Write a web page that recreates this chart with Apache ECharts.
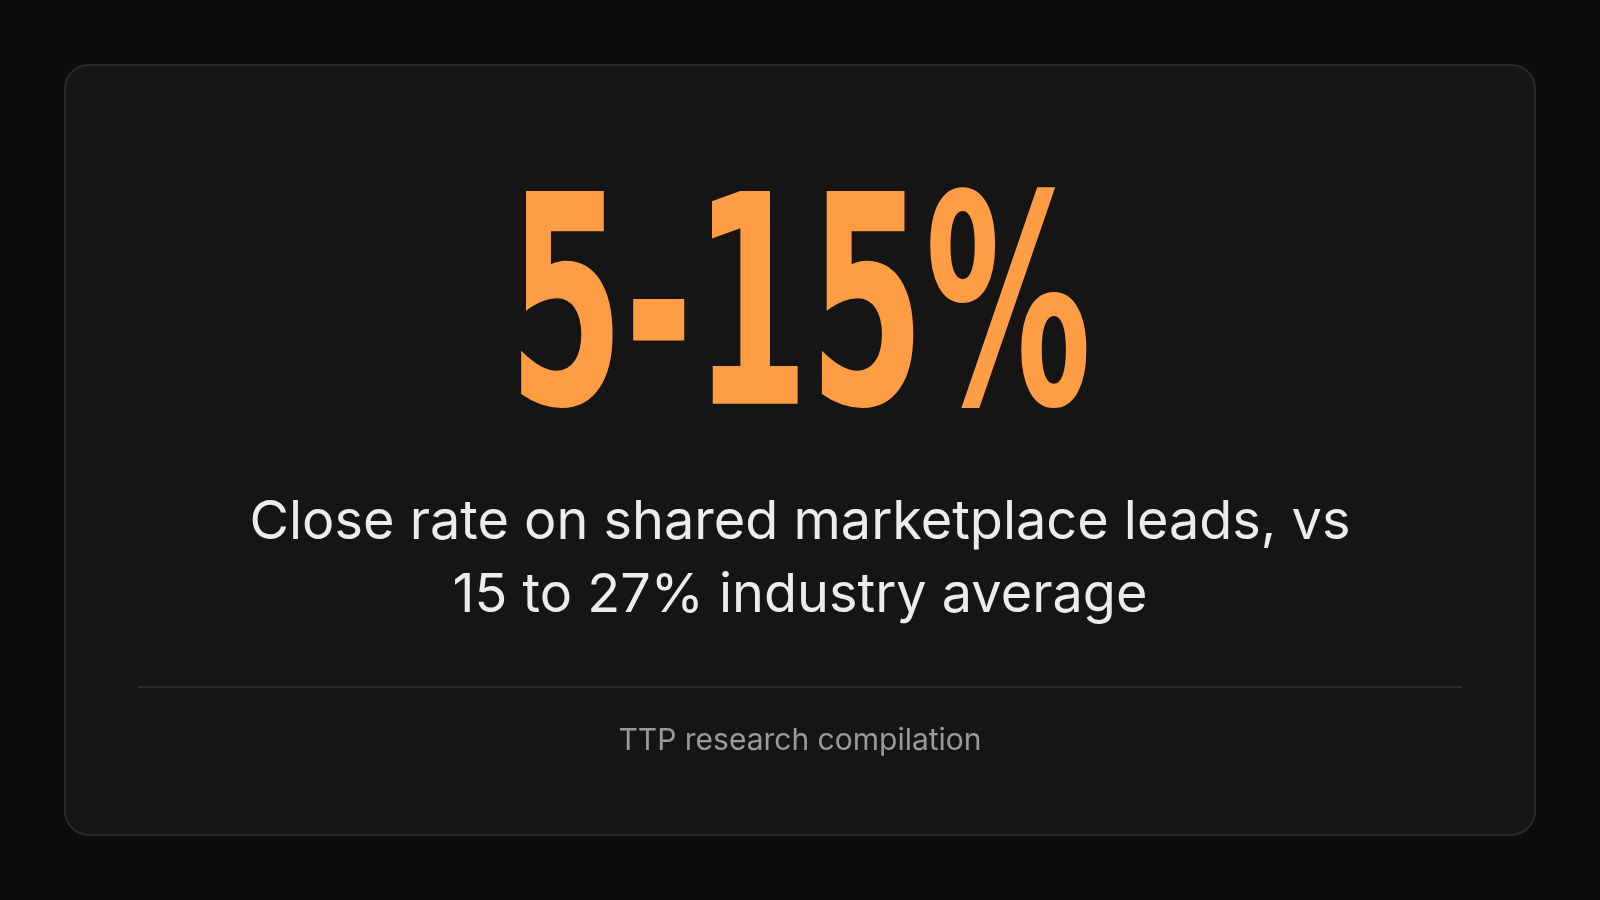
<!DOCTYPE html>
<html><head><meta charset="utf-8">
<script src="https://cdn.jsdelivr.net/npm/echarts@6/dist/echarts.min.js"></script>
<style>html,body{margin:0;background:#0d0d0d}#c{width:1600px;height:900px}</style>
</head><body><div id="c"></div>
<script>
const statValue = ["5-15%"];
const subtitleLines = ["Close rate on shared marketplace leads, vs", "15 to 27% industry average"];
const sourceText = ["TTP research compilation"];
const chart = echarts.init(document.getElementById('c'));
chart.setOption({
  backgroundColor: '#0d0d0d',
  graphic: [
    {type:'rect', shape:{x:65,y:65,width:1470,height:770,r:24}, style:{fill:'#151515',stroke:'#2a2a2a',lineWidth:2}},
    {type:'text', x:800, y:474, scaleX:0.57, style:{text:statValue[0], font:'bold 292px "DejaVu Sans"', fill:'#ff9d45', textAlign:'center', textVerticalAlign:'bottom'}},
    {type:'text', x:800, y:523, style:{text:subtitleLines[0], font:'400 54px Inter', fill:'#ececec', textAlign:'center', textVerticalAlign:'middle'}},
    {type:'text', x:800, y:596, style:{text:subtitleLines[1], font:'400 54px Inter', fill:'#ececec', textAlign:'center', textVerticalAlign:'middle'}},
    {type:'line', shape:{x1:138,y1:687,x2:1462,y2:687}, style:{stroke:'#2c2c2c',lineWidth:2}},
    {type:'text', x:800, y:741, style:{text:sourceText[0], font:'30px Inter', fill:'#9a9a9a', textAlign:'center', textVerticalAlign:'middle'}}
  ]
});
</script></body></html>
